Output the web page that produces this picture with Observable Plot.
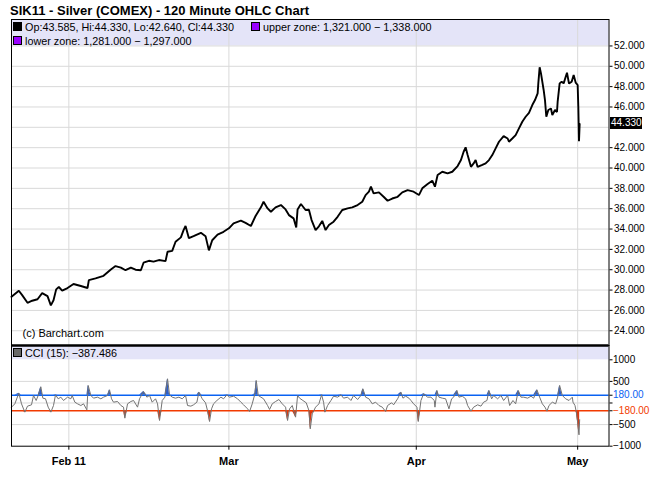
<!DOCTYPE html>
<html>
<head>
<meta charset="utf-8">
<script src="https://cdn.jsdelivr.net/npm/d3@7"></script>
<script src="https://cdn.jsdelivr.net/npm/@observablehq/plot@0.6"></script>
<style>
  body { margin: 0; background: #fff; }
  #root { position: relative; width: 650px; height: 487px; overflow: hidden; font-family: "Liberation Sans", Arial, sans-serif; color: #000; }
  .title { position: absolute; left: 10px; top: 3px; font-size: 13px; font-weight: bold; line-height: 16px; white-space: nowrap; }
  .leg { position: absolute; font-size: 10.8px; line-height: 12px; white-space: nowrap; }
  .sq { display: inline-block; width: 7px; height: 7px; border: 1px solid #000; margin-right: 3px; vertical-align: 0px; box-sizing: content-box; }
  .plotbox { position: absolute; left: 0; }
  .last { position: absolute; left: 610px; width: 31px; height: 12px; background: #000; color: #fff; font-size: 10px; line-height: 12px; text-align: left; padding-left: 1px; }
</style>
</head>
<body>
<div id="root">
  <div class="title">SIK11 - Silver (COMEX) - 120 Minute OHLC Chart</div>
  <div class="plotbox" id="price" style="top:19px"></div>
  <div class="plotbox" id="cci" style="top:345px"></div>
  <div class="leg" style="left:13px;top:21px"><span class="sq" style="background:#000"></span>Op:43.585, Hi:44.330, Lo:42.640, Cl:44.330</div>
  <div class="leg" style="left:251px;top:21px"><span class="sq" style="background:#9900ff"></span>upper zone: 1,321.000 − 1,338.000</div>
  <div class="leg" style="left:13px;top:35px"><span class="sq" style="background:#9900ff"></span>lower zone: 1,281.000 − 1,297.000</div>
  <div class="leg" style="left:13px;top:347px"><span class="sq" style="background:#666"></span>CCI (15): −387.486</div>
</div>
<script>
// ---- data (bar index along the 120-minute bar axis) ----
const priceBars = [0,11,16,24,31,39,46,54,59,63,
  67,71,76,84,93,104,114,116,126,138,
  149,156,164,171,179,186,194,198,206,213,
  221,231,234,241,246,254,258,261,266,273,
  284,291,296,301,309,318,326,333,344,351,
  359,366,374,378,384,389,396,404,411,416,
  423,427,429,434,441,446,450,453,456,461,
  466,471,476,483,489,496,504,511,519,526,
  531,536,539,543,551,558,564,571,579,586,
  594,603,611,616,624,631,635,639,646,654,
  661,669,674,678,681,684,689,693,696,699,
  706,711,716,721,726,731,738,744,746,751,
  756,761,766,771,776,781,785,789,790,792,
  794,798,800,802,805,809,811,815,818,819,
  822,825,828,833,836,840,843,846,849,850,
  851,852];
const priceClose = [27.34,27.93,27.5,26.75,26.95,27.1,27.7,27.4,26.5,27.0,
  28.07,28.3,27.95,28.2,28.6,28.4,28.2,28.98,29.15,29.4,
  30.03,30.36,30.2,29.95,30.2,30.0,29.95,30.69,30.88,30.8,
  30.95,30.85,31.77,31.85,32.75,33.18,33.9,34.3,33.1,33.3,
  33.63,33.3,31.9,32.9,33.45,33.73,34.07,34.56,34.82,34.6,
  34.3,35.28,36.13,36.68,36.03,35.7,36.13,36.36,35.93,35.37,
  35.05,34.16,35.93,36.46,35.87,35.9,34.88,34.39,33.9,34.27,
  34.8,33.9,34.39,34.72,35.2,35.87,36.03,36.13,36.36,36.68,
  37.34,37.67,38.16,37.5,37.6,37.17,36.78,37.0,37.17,37.6,
  37.83,37.67,37.34,38.0,38.42,38.75,38.16,39.31,39.63,39.47,
  39.63,40.19,40.78,41.6,42.03,41.27,40.12,40.45,40.78,40.1,
  40.3,40.45,40.78,41.27,41.93,42.58,43.14,42.9,42.58,42.9,
  43.24,43.9,44.55,45.04,45.43,46.19,46.68,47.34,48.32,49.9,
  49.3,47.67,46.68,45.04,45.7,45.85,45.2,45.7,45.5,46.52,
  48.32,48.48,48.32,49.37,48.3,48.48,49.14,48.4,48.16,46.0,
  42.64,44.33];
const lastClose = 44.33;

const cciBars = [0,5,11,15,20,24,30,33,37,40,
  44,47,51,55,59,63,66,70,74,78,
  84,89,91,95,99,104,108,113,115,119,
  123,129,134,138,144,147,150,153,159,164,
  168,170,174,179,183,189,192,198,203,207,
  211,216,219,222,226,230,234,237,241,246,
  251,256,261,264,269,273,278,281,286,291,
  294,297,300,303,308,314,318,323,327,333,
  339,344,348,354,357,361,365,367,370,374,
  378,384,387,391,396,401,406,411,414,417,
  421,426,429,432,437,442,446,448,451,456,
  461,465,468,470,474,479,483,489,494,498,
  504,509,513,519,524,527,531,536,541,546,
  551,556,561,564,570,573,579,584,587,591,
  596,599,603,608,610,614,618,624,629,634,
  635,638,641,646,651,656,660,663,668,671,
  676,681,684,689,693,699,704,708,713,716,
  720,723,729,734,738,744,747,752,756,760,
  764,768,774,779,783,788,791,796,800,803,
  806,811,816,819,822,826,831,836,841,842,
  845,847,849,851,852];
const cciValues = [-96,-19,228,-19,-212,-73,-42,174,58,174,
  375,112,97,-96,-212,-58,189,97,135,58,
  135,97,174,19,-19,-58,-19,-158,406,174,
  112,135,97,135,174,305,97,19,35,-58,
  -96,-351,-19,35,58,-96,97,267,135,174,
  19,97,-19,-405,58,135,560,189,135,112,
  135,97,174,-58,-73,-42,19,251,97,4,
  -181,-428,-135,-19,58,135,97,189,135,158,
  97,19,-42,-135,-197,-19,213,521,174,135,
  97,-58,-150,-19,35,81,-19,-96,-405,-135,
  -58,-328,174,112,58,4,-173,-598,-251,-96,
  -19,189,19,-212,-58,58,158,135,189,112,
  135,58,174,81,174,328,135,97,-19,19,
  -58,-96,-197,-58,4,-42,97,251,112,158,
  112,58,-19,-96,-428,58,213,135,135,58,
  -96,290,135,112,97,-135,97,135,290,135,
  158,97,-58,-189,-96,-42,-73,19,58,290,
  97,174,97,174,58,174,-58,58,-19,290,
  135,135,112,158,112,305,174,-19,-96,-189,
  -58,19,-19,135,406,174,97,58,135,19,
  -58,-212,-450,-737,-387];

const monthBars = [86, 326, 607, 849];
const monthLabels = ["Feb 11", "Mar", "Apr", "May"];
const priceTicks = [24,26,28,30,32,34,36,38,40,42,44,46,48,50,52];
const cciTicks = [1000, 500, 0, -500, -1000];
const cciUpper = 180;
const cciLower = -180;

const barDomain = [0, 896];
const priceDomain = [22.55, 54.6];
const cciDomain = [-1000, 1331];

// ---- tables ----
const priceData = priceBars.map((b, i) => ({bar: b, close: priceClose[i]}));
const cciData = cciBars.map((b, i) => ({bar: b, v: cciValues[i]}));

const FONT = '"Liberation Sans", Arial, sans-serif';
const GRID = "#d9d9d9";
const BAND = "#e4e4f8";
const BLUE = "#0a62f2";
const RED = "#f23a00";
const minus = s => s.replace("-", "\u2212");

const pricePlot = Plot.plot({
  width: 650, height: 326,
  marginLeft: 11, marginRight: 41.5, marginTop: 0, marginBottom: 0,
  x: {domain: barDomain, axis: null},
  y: {domain: priceDomain, axis: null},
  style: {fontFamily: FONT, fontSize: "10px", background: "transparent", overflow: "visible", color: "#000"},
  marks: [
    Plot.rect([{x1: barDomain[0], x2: barDomain[1], y1: priceTicks[priceTicks.length - 1], y2: priceDomain[1]}],
      {x1: "x1", x2: "x2", y1: "y1", y2: "y2", fill: BAND}),
    Plot.ruleY(priceTicks, {stroke: GRID, strokeWidth: 1}),
    Plot.ruleX(monthBars, {stroke: GRID, strokeWidth: 1}),
    Plot.line(priceData, {x: "bar", y: "close", stroke: "#000", strokeWidth: 1.9, strokeLinejoin: "miter"}),
    Plot.axisY(priceTicks.filter(t => t !== 44), {anchor: "right", tickSize: 3, tickPadding: 2,
      tickFormat: d => d.toFixed(3), fontSize: 10, label: null}),
    Plot.text(["(c) Barchart.com"], {frameAnchor: "bottom-left", dx: 11, dy: -9, fontSize: 11, textAnchor: "start", fill: "#000"}),
    Plot.frame({stroke: "#000", strokeWidth: 1})
  ]
});
document.getElementById("price").appendChild(pricePlot);

// last price tag placed through the price plot's own y scale
const ys = pricePlot.scale("y");
const tag = document.createElement("div");
tag.className = "last";
tag.textContent = lastClose.toFixed(3);
tag.style.top = (19 + ys.apply(lastClose) - 6) + "px";
document.getElementById("root").appendChild(tag);

const cciPlot = Plot.plot({
  width: 650, height: 142,
  marginLeft: 11, marginRight: 41.5, marginTop: 0, marginBottom: 41.3,
  x: {domain: barDomain, axis: null},
  y: {domain: cciDomain, axis: null},
  style: {fontFamily: FONT, fontSize: "10px", background: "transparent", overflow: "visible", color: "#000"},
  marks: [
    Plot.rect([{x1: barDomain[0], x2: barDomain[1], y1: cciTicks[0], y2: cciDomain[1]}],
      {x1: "x1", x2: "x2", y1: "y1", y2: "y2", fill: BAND}),
    Plot.ruleY([500, 0, -500], {stroke: GRID}),
    Plot.ruleX(monthBars, {stroke: GRID}),
    Plot.areaY(cciData, {x: "bar", y1: () => cciUpper, y2: d => Math.max(d.v, cciUpper), fill: "#2f5fc8"}),
    Plot.areaY(cciData, {x: "bar", y1: () => cciLower, y2: d => Math.min(d.v, cciLower), fill: "#d83a14"}),
    Plot.ruleY([cciUpper], {stroke: BLUE, strokeWidth: 1.5}),
    Plot.ruleY([cciLower], {stroke: RED, strokeWidth: 1.5}),
    Plot.line(cciData, {x: "bar", y: "v", stroke: "#737373", strokeWidth: 1}),
    Plot.axisY(cciTicks, {anchor: "right", tickSize: 3, tickPadding: 1, fontSize: 10, label: null,
      tickFormat: d => d === 0 ? "" : minus(String(d))}),
    Plot.axisY([cciUpper], {anchor: "right", tickSize: 3, tickPadding: 1, fontSize: 10, label: null,
      fill: BLUE, tickFormat: d => d.toFixed(2)}),
    Plot.axisY([cciLower], {anchor: "right", tickSize: 3, tickPadding: 1, fontSize: 10, label: null,
      fill: RED, tickFormat: d => minus(d.toFixed(2))}),
    Plot.axisX(monthBars, {anchor: "bottom", tickSize: 4, tickPadding: 7, label: null,
      fontSize: 11, fontWeight: "bold", tickFormat: d => monthLabels[monthBars.indexOf(d)]}),
    Plot.frame({stroke: "#000", strokeWidth: 1}),
    Plot.ruleY([cciDomain[1]], {stroke: "#000", strokeWidth: 2.5})
  ]
});
document.getElementById("cci").appendChild(cciPlot);
</script>
</body>
</html>
